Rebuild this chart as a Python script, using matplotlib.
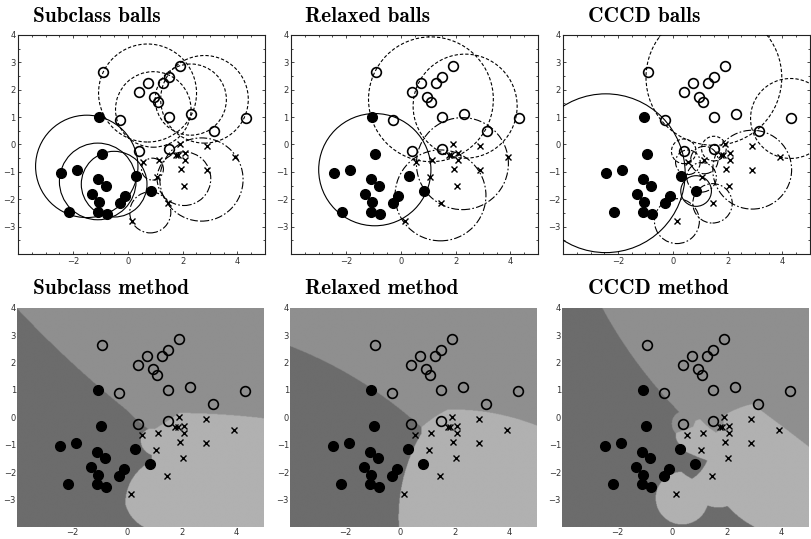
import numpy as np
import matplotlib
matplotlib.use("Agg")
import matplotlib.pyplot as plt
from matplotlib.patches import Circle
from matplotlib.colors import ListedColormap
from matplotlib.ticker import MultipleLocator, FixedLocator

# data points (three classes)
A_x = [-1.05, -0.95, -2.45, -1.85, -1.1, -0.8, -1.3, -1.05, -2.15, -1.1, -0.75, -0.3, -0.1, 0.3, 0.85]
A_y = [1.0, -0.33, -1.05, -0.95, -1.25, -1.5, -1.8, -2.1, -2.45, -2.45, -2.55, -2.15, -1.9, -1.15, -1.7]
B_x = [-0.9, -0.3, 0.4, 0.75, 0.95, 1.1, 1.3, 1.5, 1.9, 1.5, 2.3, 3.15, 4.3, 0.4, 1.5]
B_y = [2.65, 0.9, 1.9, 2.25, 1.75, 1.55, 2.25, 2.45, 2.85, 1.0, 1.1, 0.5, 0.95, -0.25, -0.15]
C_x = [1.9, 2.9, 3.9, 1.75, 1.85, 2.1, 2.1, 1.95, 2.9, 2.05, 1.45, 0.15, 0.55, 1.15, 1.05]
C_y = [0.0, -0.05, -0.45, -0.37, -0.37, -0.3, -0.57, -0.9, -0.92, -1.5, -2.15, -2.8, -0.65, -0.57, -1.2]

# balls: centre x, centre y, radius, class (0=A, 1=B, 2=C)
sub_cx = [-1.5, -1.1, -0.5, 0.72, 0.93, 2.3, 2.8, 0.9, 0.82, 2.69, 2.05]
sub_cy = [-0.8, -1.35, -1.45, 1.88, 1.28, 1.64, 1.65, -0.9, -2.48, -1.28, -1.25]
sub_r = [1.87, 1.4, 1.2, 1.79, 1.38, 1.3, 1.6, 0.4, 0.75, 1.52, 0.98]
sub_cls = [0, 0, 0, 1, 1, 1, 1, 2, 2, 2, 2]

rel_cx = [-0.95, 1.1, 2.35, 2.25, 1.45]
rel_cy = [-0.92, 1.65, 1.4, -0.7, -1.86]
rel_r = [2.05, 2.28, 1.9, 1.68, 1.66]
rel_cls = [0, 1, 1, 2, 2]

cccd_cx = [-2.45, 0.85, 1.5, 4.3, 0.4, 1.5, 2.9, 0.15, 1.45, 1.05, 0.55, 1.15]
cccd_cy = [-1.05, -1.7, 2.45, 0.95, -0.25, -0.15, -0.92, -2.8, -2.15, -1.2, -0.65, -0.57]
cccd_r = [2.9, 0.56, 2.48, 1.46, 0.45, 0.45, 1.44, 0.82, 0.72, 0.54, 0.45, 0.5]
cccd_cls = [0, 0, 1, 1, 1, 1, 2, 2, 2, 2, 2, 2]

methods = [
    ("Subclass", sub_cx, sub_cy, sub_r, sub_cls),
    ("Relaxed", rel_cx, rel_cy, rel_r, rel_cls),
    ("CCCD", cccd_cx, cccd_cy, cccd_r, cccd_cls),
]

XMIN, XMAX, YMIN, YMAX = -4, 5, -4, 4
line_styles = ["-", (0, (3, 1.8)), (0, (7, 2, 1.5, 2))]
region_cmap = ListedColormap(["#6c6c6c", "#8f8f8f", "#b1b1b1"])
title_font = dict(family="cmb10", fontsize=15.3)

W, H = 811, 539


def draw_points(ax):
    ax.plot(A_x, A_y, "o", ms=7, mfc="black", mec="black", zorder=5)
    ax.plot(B_x, B_y, "o", ms=7, mfc="none", mec="black", mew=1.2, zorder=5)
    ax.plot(C_x, C_y, "x", ms=5, mec="black", mew=1.0, zorder=5)


def style_ticks(ax, frame):
    ax.set_xlim(XMIN, XMAX)
    ax.set_ylim(YMIN, YMAX)
    ax.set_aspect("equal")
    ax.xaxis.set_major_locator(FixedLocator([-2, 0, 2, 4]))
    ax.yaxis.set_major_locator(FixedLocator([-3, -2, -1, 0, 1, 2, 3, 4]))
    if frame:
        ax.xaxis.set_minor_locator(MultipleLocator(0.5))
        ax.yaxis.set_minor_locator(MultipleLocator(0.5))
        ax.tick_params(which="both", direction="in", top=True, right=True,
                       width=0.5, labelsize=6, labelcolor="#333333", pad=2)
        ax.tick_params(which="major", length=2.5)
        ax.tick_params(which="minor", length=1.5)
        for s in ax.spines.values():
            s.set_linewidth(0.8)
            s.set_color("#222222")
    else:
        ax.tick_params(which="both", length=0, labelsize=6,
                       labelcolor="#333333", pad=1)
        for s in ax.spines.values():
            s.set_visible(False)


fig = plt.figure(figsize=(W / 100, H / 100), dpi=100)
top_left = [0.0222, 0.3588, 0.6942]
bot_left = [0.021, 0.3576, 0.693]
title_x = [33, 305, 588]

gx = np.linspace(XMIN, XMAX, 451)
gy = np.linspace(YMIN, YMAX, 401)
GX, GY = np.meshgrid(gx, gy)

for i, (name, cx, cy, r, cls) in enumerate(methods):
    # top row: the balls
    ax = fig.add_axes([top_left[i], 0.5288, 0.3046, 0.4063])
    for x0, y0, rr, c in zip(cx, cy, r, cls):
        ax.add_patch(Circle((x0, y0), rr, fill=False, ec="black",
                            lw=0.8, ls=line_styles[c], zorder=3))
    draw_points(ax)
    style_ticks(ax, frame=True)
    fig.text(title_x[i] / W, 1 - 21.5 / H, name + " balls",
             ha="left", va="baseline", **title_font)

    # bottom row: decision regions by scaled distance to the nearest ball
    ax2 = fig.add_axes([bot_left[i], 0.0226, 0.3046, 0.4063])
    score = np.full((3,) + GX.shape, np.inf)
    for x0, y0, rr, c in zip(cx, cy, r, cls):
        d = np.hypot(GX - x0, GY - y0) / rr
        score[c] = np.minimum(score[c], d)
    label = np.argmin(score, axis=0)
    ax2.imshow(label, origin="lower", extent=[XMIN, XMAX, YMIN, YMAX],
               cmap=region_cmap, vmin=0, vmax=2, interpolation="bilinear",
               aspect="equal", zorder=0)
    draw_points(ax2)
    style_ticks(ax2, frame=False)
    fig.text(title_x[i] / W, 1 - 294.5 / H, name + " method",
             ha="left", va="baseline", **title_font)

fig.savefig("out.png", dpi=100)
